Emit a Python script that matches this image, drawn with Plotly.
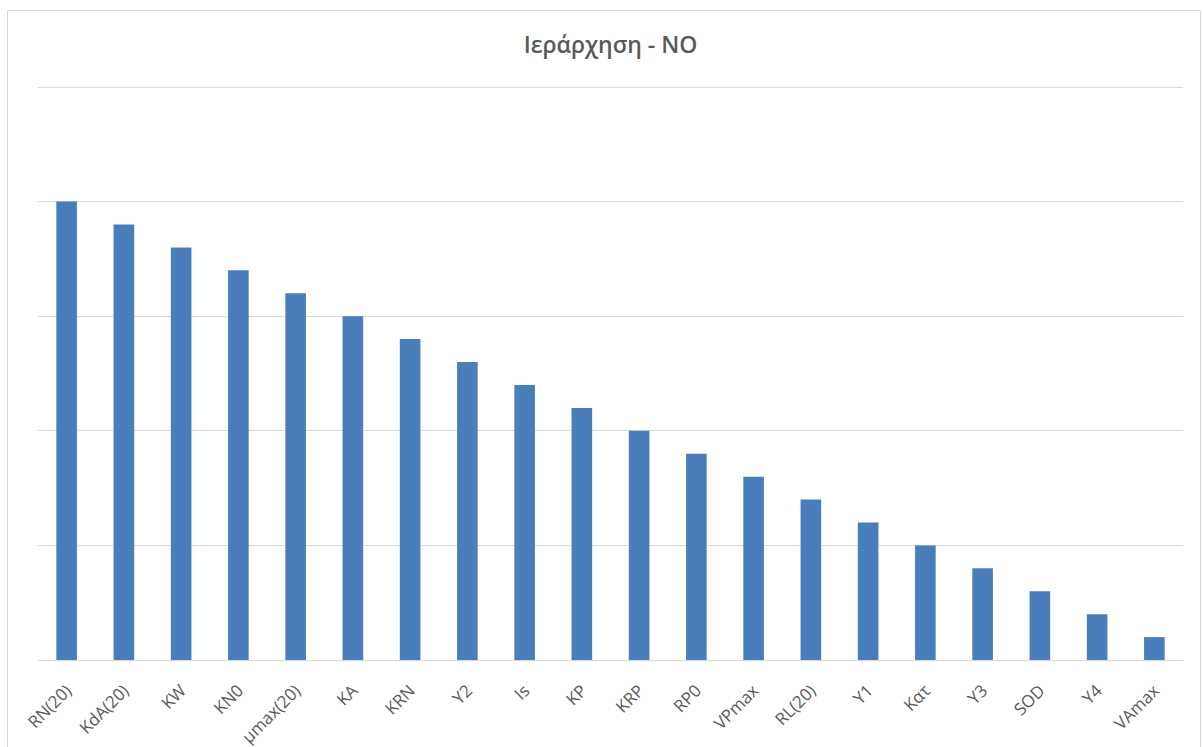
import plotly.graph_objects as go

# Parameter ranking for NO
categories = ["RN(20)", "KdA(20)", "KW", "KN0", "μmax(20)", "KA", "KRN", "Y2", "Is", "KP",
              "KRP", "RP0", "VPmax", "RL(20)", "Y1", "Kατ", "Y3", "SOD", "Y4", "VAmax"]
ranks = [20, 19, 18, 17, 16, 15, 14, 13, 12, 11, 10, 9, 8, 7, 6, 5, 4, 3, 2, 1]
y_max = 25

W, H = 1203, 747
L, R, T, B = 38, 20, 87, 87
pw = W - L - R
ph = H - T - B

fig = go.Figure(go.Bar(
    x=categories, y=ranks,
    marker=dict(color="#4A7EBB", line=dict(width=0)),
))

# outer chart frame, in paper units
def px_x(p):
    return (p - L) / pw

def px_y(p):
    return (H - B - p) / ph

fig.add_shape(type="rect", xref="paper", yref="paper",
              x0=px_x(7.5), x1=px_x(1200.5), y0=px_y(760), y1=px_y(10.5),
              line=dict(color="#D9D9D9", width=1), fillcolor="rgba(0,0,0,0)", layer="below")

# top gridline at the axis maximum
fig.add_shape(type="line", xref="paper", yref="paper", x0=0, x1=1,
              y0=px_y(87.5), y1=px_y(87.5),
              line=dict(color="#D9D9D9", width=1), layer="above")

fig.update_layout(
    width=W, height=H,
    margin=dict(l=L, r=R, t=T, b=B),
    paper_bgcolor="white", plot_bgcolor="white",
    bargap=0.64,
    showlegend=False,
    title=dict(text="Ιεράρχηση - ΝΟ", x=0.5, xref="paper", xanchor="center",
               y=1 - 45 / H, yanchor="middle",
               font=dict(family="Open Sans, sans-serif", size=23, weight=600, color="#595959")),
    font=dict(family="Open Sans, sans-serif", color="#595959"),
    xaxis=dict(tickangle=-45, showgrid=False, showline=True, linecolor="#D9D9D9", linewidth=1,
               ticks="", ticklabelstandoff=13, automargin=False,
               tickfont=dict(size=17, color="#595959"), fixedrange=True),
    yaxis=dict(range=[0, y_max], dtick=5, showgrid=True,
               gridcolor="#D9D9D9", gridwidth=1, automargin=False,
               showticklabels=False, zeroline=False, showline=False, fixedrange=True),
)

fig.write_html("out.html")
